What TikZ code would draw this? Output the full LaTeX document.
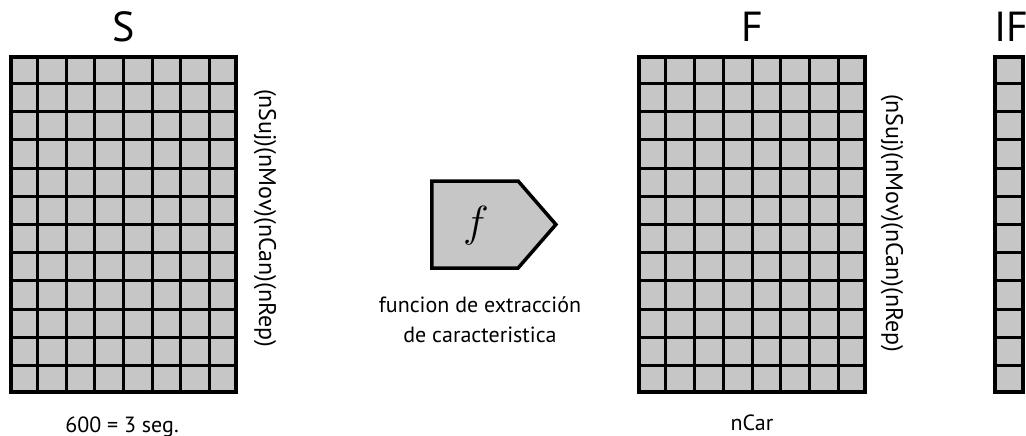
\documentclass[tikz,border=0pt]{standalone}
\usepackage{fontspec}
\setmainfont{PT Sans}
\usetikzlibrary{positioning,calc,shapes.symbols}
\definecolor{cellgray}{HTML}{C6C6C6}

\begin{document}
\begin{tikzpicture}[x=1pt, y=-1pt,
    matrixbox/.style={rectangle, draw, line width=3.5pt, fill=cellgray, inner sep=0pt},
    gridline/.style={line width=3pt},
    title/.style={font=\fontsize{42}{46}\selectfont, inner sep=0pt},
    caption/.style={font=\fontsize{22}{30}\selectfont, align=center, inner sep=0pt},
    dimlabel/.style={font=\fontsize{24}{28}\selectfont, rotate=-90, inner sep=0pt},
    funcbox/.style={signal, signal to=east, signal pointer angle=98, draw, line width=3.5pt, fill=cellgray, minimum width=124pt, minimum height=87pt, inner sep=0pt}]
    \useasboundingbox (0,0) rectangle (1026,436);

    % Matrices
    \node[matrixbox, minimum width=225pt, minimum height=335pt] (S) at (123.5,224.5) {};
    \node[matrixbox, minimum width=226pt, minimum height=335pt] (F) at (752,224.5) {};
    \node[matrixbox, minimum width=28pt, minimum height=335pt] (IF) at (1009,224.5) {};

    % Cell lines
    \foreach \m in {S,F} {
        \foreach \i in {1,...,7}
            \draw[gridline] ($(\m.north west)!\i/8!(\m.north east)$) -- ($(\m.south west)!\i/8!(\m.south east)$);
    }
    \foreach \m in {S,F,IF} {
        \foreach \j in {1,...,11}
            \draw[gridline] ($(\m.north west)!\j/12!(\m.south west)$) -- ($(\m.north east)!\j/12!(\m.south east)$);
    }

    % Titles
    \node[title, anchor=base] (Stitle) at (124,42) {S};
    \node[title, anchor=base] (Ftitle) at (752,42) {F};
    \node[title, anchor=base] (IFtitle) at (1011,42) {IF};

    % Dimensions
    \node[dimlabel] (Srows) at (265,218) {(nSuj)(nMov)(nCan)(nRep)};
    \node[dimlabel] (Frows) at (892,223) {(nSuj)(nMov)(nCan)(nRep)};
    \node[caption, anchor=base] (Scols) at (122,432) {600 = 3 seg.};
    \node[caption, anchor=base] (Fcols) at (752,430) {nCar};

    % Feature function
    \node[funcbox] (func) at (475,224.5) {};
    \node[font=\fontsize{20}{20}\selectfont, scale=2.1] (fsym) at (476,226) {$f$};
    \node[caption] (funclbl) at (480,320) {funcion de extracción\\de caracteristica};
\end{tikzpicture}
\end{document}
